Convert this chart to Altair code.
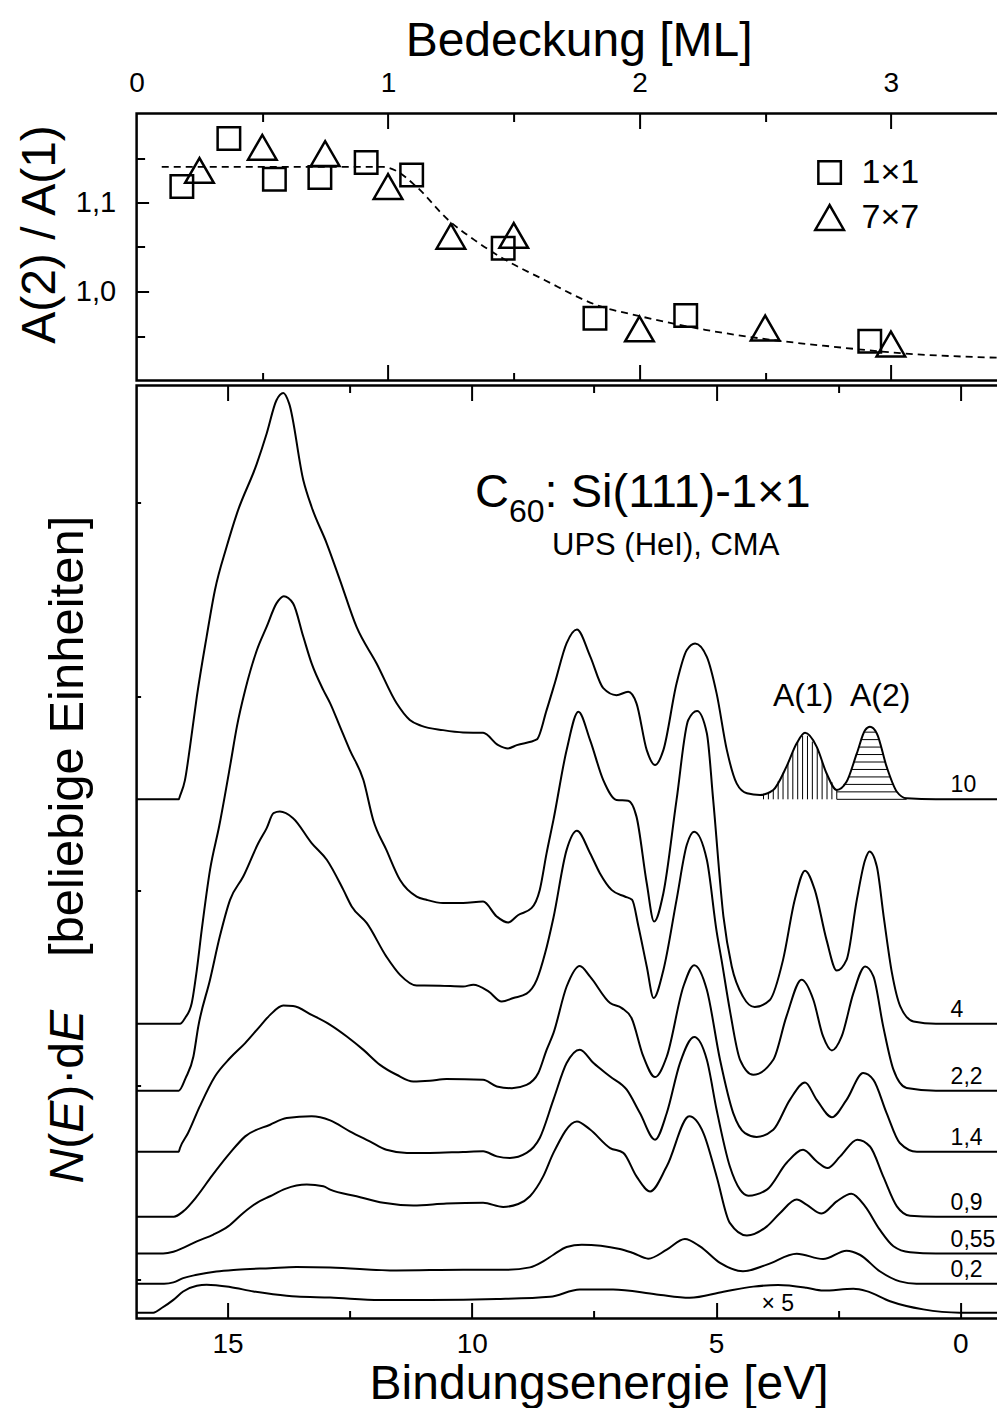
import altair as alt
import numpy as np
import pandas as pd

FONT = "Liberation Sans"

# ---------------- upper panel: A(2)/A(1) versus coverage ----------------
sq_ml = [0.18, 0.367, 0.548, 0.729, 0.913, 1.094, 1.458, 1.823, 2.184, 2.916]
sq_ratio = [1.118, 1.172, 1.126, 1.128, 1.145, 1.131, 1.0485, 0.970, 0.973, 0.944]
tri_ml = [0.25, 0.50, 0.75, 1.0, 1.25, 1.50, 2.0, 2.5, 3.0]
tri_ratio = [1.136, 1.162, 1.155, 1.118, 1.062, 1.063, 0.958, 0.959, 0.941]
fit_ml = [0.10, 0.98, 1.03, 1.114, 1.241, 1.343, 1.446, 1.624, 1.828, 2.006,
          2.261, 2.516, 2.77, 3.025, 3.5]
fit_ratio = [1.14, 1.14, 1.136, 1.1175, 1.080, 1.058, 1.039, 1.0127, 0.985, 0.972,
             0.957, 0.946, 0.938, 0.931, 0.925]

# ---------------- lower panel: UPS spectra ----------------
# (binding energy eV, intensity above the curve's own baseline, arb. units)
spec_10 = [(16.86, 0), (16.0, 0), (15.975, 0.017), (15.873, 0.099), (15.77, 0.27),
           (15.63, 0.528), (15.43, 0.836), (15.26, 1.076), (15.02, 1.299), (14.81, 1.47),
           (14.40, 1.728), (14.20, 1.882), (14.0, 2.053), (13.86, 2.09), (13.74, 2.036),
           (13.45, 1.642), (13.28, 1.504), (12.97, 1.316), (12.70, 1.128), (12.36, 0.887),
           (11.95, 0.699), (11.54, 0.494), (11.27, 0.408), (11.03, 0.378), (10.59, 0.356),
           (10.18, 0.344), (9.77, 0.342), (9.46, 0.279), (9.26, 0.262), (9.08, 0.279),
           (8.67, 0.308), (8.47, 0.459), (8.30, 0.60), (8.06, 0.804), (7.85, 0.874),
           (7.58, 0.737), (7.31, 0.572), (7.04, 0.536), (6.80, 0.553), (6.63, 0.494),
           (6.42, 0.253), (6.25, 0.176), (6.08, 0.253), (5.81, 0.596), (5.60, 0.768),
           (5.43, 0.802), (5.19, 0.733), (4.99, 0.545), (4.78, 0.253), (4.58, 0.082),
           (4.37, 0.031), (4.10, 0.022), (3.83, 0.048), (3.56, 0.168), (3.35, 0.288),
           (3.18, 0.342), (2.94, 0.27), (2.74, 0.134), (2.53, 0.048), (2.33, 0.09),
           (2.12, 0.236), (1.95, 0.356), (1.85, 0.373), (1.71, 0.339), (1.51, 0.168),
           (1.30, 0.039), (1.10, 0.005), (0.5, 0), (-1.15, 0)]
spec_4 = [(16.86, 0), (15.975, 0), (15.873, 0.029), (15.735, 0.106), (15.63, 0.278),
          (15.53, 0.483), (15.36, 0.792), (15.17, 1.02), (14.94, 1.34), (14.81, 1.529),
          (14.64, 1.717), (14.40, 1.923), (14.20, 2.043), (14.0, 2.163), (13.85, 2.2),
          (13.66, 2.163), (13.45, 1.991), (13.28, 1.854), (13.04, 1.717), (12.90, 1.649),
          (12.70, 1.529), (12.50, 1.409), (12.22, 1.254), (12.02, 1.049), (11.75, 0.895),
          (11.47, 0.74), (11.13, 0.655), (10.93, 0.638), (10.59, 0.621), (10.18, 0.621),
          (9.77, 0.629), (9.49, 0.552), (9.26, 0.521), (9.05, 0.56), (8.78, 0.595),
          (8.61, 0.689), (8.47, 0.878), (8.33, 1.049), (8.06, 1.409), (7.82, 1.606),
          (7.58, 1.46), (7.31, 1.254), (7.04, 1.152), (6.80, 1.148), (6.63, 1.066),
          (6.42, 0.723), (6.27, 0.526), (6.08, 0.672), (5.81, 1.152), (5.57, 1.563),
          (5.39, 1.609), (5.19, 1.495), (5.06, 1.152), (4.85, 0.552), (4.68, 0.295),
          (4.45, 0.14), (4.21, 0.086), (3.90, 0.123), (3.63, 0.329), (3.39, 0.638),
          (3.18, 0.788), (2.98, 0.689), (2.74, 0.432), (2.53, 0.274), (2.33, 0.329),
          (2.12, 0.638), (1.95, 0.843), (1.86, 0.886), (1.71, 0.809), (1.57, 0.552),
          (1.40, 0.261), (1.23, 0.09), (0.96, 0.012), (0.5, 0), (-1.15, 0)]
spec_22 = [(16.86, 0), (16.0, 0), (15.86, 0.065), (15.70, 0.176), (15.60, 0.331),
           (15.36, 0.571), (15.16, 0.793), (14.95, 0.982), (14.68, 1.102), (14.37, 1.274),
           (14.20, 1.351), (14.06, 1.428), (13.93, 1.436), (13.66, 1.402), (13.28, 1.274),
           (12.97, 1.188), (12.63, 1.033), (12.46, 0.948), (12.15, 0.862), (11.75, 0.69),
           (11.47, 0.596), (11.13, 0.541), (10.65, 0.54), (10.18, 0.536), (9.97, 0.545),
           (9.66, 0.511), (9.39, 0.459), (9.15, 0.477), (8.88, 0.499), (8.67, 0.571),
           (8.50, 0.708), (8.33, 0.89), (8.06, 1.239), (7.85, 1.337), (7.58, 1.222),
           (7.38, 1.119), (7.14, 1.033), (6.87, 0.999), (6.72, 0.982), (6.59, 0.845),
           (6.42, 0.639), (6.28, 0.477), (6.08, 0.62), (5.81, 0.982), (5.60, 1.265),
           (5.45, 1.332), (5.19, 1.188), (4.99, 0.82), (4.89, 0.674), (4.72, 0.416),
           (4.51, 0.159), (4.24, 0.082), (3.83, 0.159), (3.56, 0.382), (3.25, 0.571),
           (3.01, 0.468), (2.81, 0.279), (2.63, 0.207), (2.43, 0.279), (2.19, 0.502),
           (1.95, 0.639), (1.78, 0.588), (1.58, 0.331), (1.37, 0.108), (1.10, 0.014),
           (0.5, 0), (-1.15, 0)]
spec_14 = [(16.86, 0), (16.0, 0), (15.975, 0.019), (15.81, 0.096), (15.57, 0.233),
           (15.26, 0.387), (14.95, 0.482), (14.64, 0.559), (14.37, 0.636), (14.13, 0.704),
           (13.86, 0.752), (13.66, 0.75), (13.28, 0.704), (12.90, 0.653), (12.56, 0.593),
           (12.22, 0.524), (11.88, 0.447), (11.54, 0.396), (11.20, 0.361), (10.86, 0.365),
           (10.52, 0.374), (9.77, 0.37), (9.49, 0.336), (9.18, 0.327), (8.88, 0.344),
           (8.64, 0.405), (8.47, 0.524), (8.33, 0.61), (8.06, 0.85), (7.79, 0.956),
           (7.58, 0.901), (7.17, 0.765), (6.93, 0.739), (6.73, 0.687), (6.49, 0.49),
           (6.25, 0.384), (6.01, 0.49), (5.67, 0.85), (5.45, 0.96), (5.19, 0.833),
           (4.92, 0.473), (4.65, 0.199), (4.41, 0.096), (4.17, 0.076), (3.83, 0.113),
           (3.49, 0.267), (3.18, 0.356), (2.94, 0.267), (2.63, 0.178), (2.33, 0.267),
           (1.99, 0.405), (1.78, 0.37), (1.51, 0.199), (1.24, 0.045), (0.89, 0), (-1.15, 0)]
spec_09 = [(16.86, 0), (16.1, 0), (15.91, 0.027), (15.63, 0.104), (15.33, 0.207),
           (14.95, 0.328), (14.64, 0.413), (14.13, 0.473), (13.79, 0.507), (13.28, 0.516),
           (12.90, 0.495), (12.50, 0.439), (12.09, 0.387), (11.75, 0.344), (11.33, 0.328),
           (10.86, 0.328), (10.18, 0.333), (9.77, 0.336), (9.49, 0.31), (9.22, 0.302),
           (8.88, 0.328), (8.61, 0.405), (8.33, 0.602), (8.06, 0.79), (7.79, 0.859),
           (7.51, 0.79), (7.17, 0.721), (6.83, 0.653), (6.56, 0.533), (6.25, 0.396),
           (6.01, 0.533), (5.74, 0.79), (5.45, 0.924), (5.19, 0.807), (4.99, 0.55),
           (4.72, 0.259), (4.51, 0.139), (4.34, 0.108), (3.96, 0.139), (3.56, 0.276),
           (3.22, 0.344), (2.94, 0.284), (2.72, 0.25), (2.46, 0.31), (2.11, 0.396),
           (1.85, 0.361), (1.58, 0.207), (1.30, 0.053), (1.03, 0.005), (0.5, 0), (-1.15, 0)]
spec_055 = [(16.86, 0), (16.32, 0), (16.11, 0.009), (15.91, 0.029), (15.63, 0.063),
            (15.29, 0.098), (14.99, 0.14), (14.68, 0.209), (14.40, 0.261), (14.13, 0.295),
            (13.82, 0.333), (13.38, 0.355), (13.04, 0.346), (12.90, 0.329), (12.36, 0.295),
            (11.81, 0.261), (11.20, 0.247), (10.52, 0.257), (9.77, 0.261), (9.36, 0.24),
            (9.05, 0.255), (8.81, 0.295), (8.54, 0.397), (8.33, 0.518), (7.85, 0.68),
            (7.58, 0.638), (7.17, 0.543), (6.90, 0.518), (6.63, 0.397), (6.35, 0.32),
            (6.01, 0.449), (5.55, 0.706), (5.26, 0.62), (4.99, 0.397), (4.72, 0.158),
            (4.37, 0.093), (3.96, 0.14), (3.69, 0.209), (3.35, 0.278), (3.15, 0.252),
            (2.84, 0.206), (2.53, 0.269), (2.23, 0.308), (1.95, 0.243), (1.65, 0.123),
            (1.37, 0.038), (1.03, 0.007), (0.5, 0), (-1.15, 0)]
spec_02 = [(16.86, 0), (16.3, 0), (16.11, 0.007), (15.91, 0.029), (15.63, 0.046),
           (15.23, 0.063), (14.81, 0.072), (14.13, 0.08), (13.59, 0.086), (12.90, 0.084),
           (11.54, 0.068), (10.18, 0.072), (9.29, 0.072), (8.81, 0.084), (8.54, 0.115),
           (8.33, 0.149), (8.06, 0.189), (7.75, 0.201), (6.97, 0.179), (6.70, 0.158),
           (6.39, 0.129), (6.01, 0.175), (5.64, 0.23), (5.33, 0.192), (4.92, 0.107),
           (4.45, 0.064), (3.96, 0.098), (3.35, 0.154), (2.81, 0.127), (2.33, 0.17),
           (2.06, 0.149), (1.65, 0.064), (1.24, 0.012), (0.9, 0), (-1.15, 0)]
spec_x5 = [(16.86, 0), (16.52, 0), (16.35, 0.024), (16.11, 0.066), (15.91, 0.109),
           (15.63, 0.139), (15.43, 0.144), (14.95, 0.132), (14.47, 0.109), (14.07, 0.095),
           (13.59, 0.083), (12.90, 0.078), (11.88, 0.065), (10.86, 0.065), (9.49, 0.07),
           (8.40, 0.082), (7.79, 0.119), (7.11, 0.119), (6.22, 0.094), (5.54, 0.077),
           (4.85, 0.108), (4.24, 0.134), (3.73, 0.142), (3.15, 0.128), (2.81, 0.114),
           (2.19, 0.123), (1.92, 0.111), (1.44, 0.059), (0.76, 0.017), (0.01, 0), (-1.15, 0)]

curve_names = ["10", "4", "2,2", "1,4", "0,9", "0,55", "0,2", "x5"]
curve_specs = [spec_10, spec_4, spec_22, spec_14, spec_09, spec_055, spec_02, spec_x5]
curve_offsets = [2.471, 1.316, 0.972, 0.658, 0.324, 0.134, -0.021, -0.17]
label_names = ["10", "4", "2,2", "1,4", "0,9", "0,55", "0,2"]
label_E = 0.2

# ---------------- build tables ----------------
pts_df = pd.DataFrame({
    "ml": sq_ml + tri_ml,
    "ratio": sq_ratio + tri_ratio,
    "typ": ["1×1"] * len(sq_ml) + ["7×7"] * len(tri_ml),
})
fit_df = pd.DataFrame({"ml": fit_ml, "ratio": fit_ratio})

rows = []
for name, spec, off in zip(curve_names, curve_specs, curve_offsets):
    for e, i in spec:
        rows.append({"E": e, "v": off + i, "curve": name})
curves_df = pd.DataFrame(rows)

lab_df = pd.DataFrame({
    "E": [label_E] * len(label_names),
    "v": [curve_offsets[curve_names.index(n)] + 0.036 for n in label_names],
    "t": label_names,
})
x5_df = pd.DataFrame({"E": [4.07], "v": [-0.163], "t": ["× 5"]})

# hatching of the A(1) / A(2) areas of the top spectrum
E10 = np.array([p[0] for p in spec_10][::-1])
I10 = np.array([p[1] for p in spec_10][::-1])
off10 = curve_offsets[0]
a1_E = [2.53 + 0.1 * k for k in range(16)]
hatch_v = pd.DataFrame({
    "E": a1_E,
    "v0": [off10] * len(a1_E),
    "v1": [off10 + float(np.interp(e, E10, I10)) for e in a1_E],
})
grid_r = np.linspace(1.10, 1.85, 600)
vals_r = np.interp(grid_r, E10, I10)
grid_l = np.linspace(1.85, 2.53, 600)
vals_l = np.interp(grid_l, E10, I10)
hrows = []
for k in range(10):
    h = 0.0384 * k
    rr = grid_r[vals_r <= h]
    e_right = float(rr.max()) if len(rr) else 1.10
    ll = grid_l[vals_l <= h]
    e_left = float(ll.min()) if len(ll) else 2.53
    hrows.append({"E0": e_left, "E1": e_right, "v": off10 + h})
hatch_h = pd.DataFrame(hrows)

# ---------------- geometry / scales ----------------
W = 880
H1 = 267
H2 = 933
top_x = alt.Scale(domain=[0, 3.5], nice=False, zero=False)
top_y = alt.Scale(domain=[0.9, 1.2], nice=False, zero=False)
bot_x = alt.Scale(domain=[-1.151, 16.863], reverse=True, nice=False, zero=False)
bot_y = alt.Scale(domain=[-0.2, 4.6], nice=False, zero=False)


def tick_axis(orient, offset, values, size):
    return alt.Axis(orient=orient, offset=offset, values=values, tickSize=size,
                    tickWidth=2, tickColor="black", ticks=True, labels=False,
                    domain=False, grid=False, title=None)


def guide(data, xf, yf, xsc, ysc, xaxis, yaxis):
    return alt.Chart(data).mark_point(opacity=0, size=1).encode(
        x=alt.X(f"{xf}:Q", scale=xsc, axis=xaxis),
        y=alt.Y(f"{yf}:Q", scale=ysc, axis=yaxis),
    )


gtop = pd.DataFrame({"ml": [1.0], "ratio": [1.0]})
gbot = pd.DataFrame({"E": [5.0], "v": [1.0]})

# ---------------- upper panel ----------------
fit_line = alt.Chart(fit_df).mark_line(
    color="black", strokeWidth=1.8, strokeDash=[7, 5], interpolate="monotone"
).encode(
    x=alt.X("ml:Q", scale=top_x, axis=None),
    y=alt.Y("ratio:Q", scale=top_y, axis=None),
)

leg = alt.Legend(orient="none", legendX=676, legendY=42, title=None, labelFontSize=34,
                 labelOffset=15, rowPadding=10, padding=0, symbolStrokeWidth=2.5,
                 symbolStrokeColor="black", symbolFillColor="transparent",
                 labelColor="black")
points = alt.Chart(pts_df).mark_point(
    filled=False, color="black", strokeWidth=2.5, opacity=1
).encode(
    x=alt.X("ml:Q", scale=top_x, axis=None),
    y=alt.Y("ratio:Q", scale=top_y, axis=None),
    shape=alt.Shape("typ:N", scale=alt.Scale(domain=["1×1", "7×7"],
                                             range=["square", "triangle-up"]), legend=leg),
    size=alt.Size("typ:N", scale=alt.Scale(domain=["1×1", "7×7"], range=[506, 820]),
                  legend=leg),
)

top_label_x = alt.Axis(orient="top", values=[0, 1, 2, 3], format="d", labelFontSize=28,
                       labelPadding=15.6, ticks=False, tickSize=0, domain=False, grid=False,
                       labelFlush=False, labelOverlap=False,
                       title="Bedeckung [ML]", titleFontSize=48, titleFontWeight="normal",
                       titleX=442, titleY=-58, titleBaseline="alphabetic",
                       titleAlign="center")
top_label_y = alt.Axis(orient="left", values=[1.0, 1.1],
                       labelExpr="replace(format(datum.value, '.1f'), '.', ',')",
                       labelFontSize=29, labelPadding=21, ticks=False, tickSize=0,
                       domain=False, grid=False, labelOverlap=False,
                       title="A(2) / A(1)", titleFontSize=48, titleFontWeight="normal",
                       titleX=-82.6, titleY=120.5, titleAngle=270,
                       titleBaseline="alphabetic", titleAlign="center")

top = alt.layer(
    fit_line,
    points,
    guide(gtop, "ml", "ratio", top_x, top_y, top_label_x, top_label_y),
    guide(gtop, "ml", "ratio", top_x, top_y,
          tick_axis("bottom", -H1, [1, 2, 3], 15), tick_axis("right", -W, [1.0, 1.1], 12)),
    guide(gtop, "ml", "ratio", top_x, top_y,
          tick_axis("bottom", -H1, [0.5, 1.5, 2.5], 8),
          tick_axis("right", -W, [0.95, 1.05, 1.15], 8)),
    guide(gtop, "ml", "ratio", top_x, top_y,
          tick_axis("top", -H1, [1, 2, 3], 16), tick_axis("left", -W, [1.0, 1.1], 16)),
    guide(gtop, "ml", "ratio", top_x, top_y,
          tick_axis("top", -H1, [0.5, 1.5, 2.5], 8),
          tick_axis("left", -W, [0.95, 1.05, 1.15], 10)),
).resolve_axis(x="independent", y="independent").properties(width=W, height=H1)

# ---------------- lower panel ----------------
hv = alt.Chart(hatch_v).mark_rule(color="black", strokeWidth=1).encode(
    x=alt.X("E:Q", scale=bot_x, axis=None),
    y=alt.Y("v0:Q", scale=bot_y, axis=None),
    y2="v1:Q",
)
hh = alt.Chart(hatch_h).mark_rule(color="black", strokeWidth=1).encode(
    x=alt.X("E0:Q", scale=bot_x, axis=None),
    x2="E1:Q",
    y=alt.Y("v:Q", scale=bot_y, axis=None),
)
lines = alt.Chart(curves_df).mark_line(
    color="black", strokeWidth=2, interpolate="monotone"
).encode(
    x=alt.X("E:Q", scale=bot_x, axis=None),
    y=alt.Y("v:Q", scale=bot_y, axis=None),
    detail="curve:N",
)
labels = alt.Chart(lab_df).mark_text(
    align="left", baseline="alphabetic", fontSize=23, color="black"
).encode(
    x=alt.X("E:Q", scale=bot_x, axis=None),
    y=alt.Y("v:Q", scale=bot_y, axis=None),
    text="t:N",
)
x5_lab = alt.Chart(x5_df).mark_text(
    align="left", baseline="alphabetic", fontSize=23, color="black"
).encode(
    x=alt.X("E:Q", scale=bot_x, axis=None),
    y=alt.Y("v:Q", scale=bot_y, axis=None),
    text="t:N",
)


def note(txt, px, py, size, angle=0, style="normal"):
    return alt.Chart(pd.DataFrame({"t": [txt]})).mark_text(
        align="left", baseline="alphabetic", fontSize=size, angle=angle,
        fontStyle=style, color="black"
    ).encode(x=alt.value(px), y=alt.value(py), text="t:N")


notes = [
    note("C", 338.4, 121, 47),
    note("60", 372.4, 136, 32),
    note(": Si(111)-1×1", 408.0, 121, 47),
    note("UPS (HeI), CMA", 415.4, 169, 31),
    note("A(1)", 636.4, 320.7, 32),
    note("A(2)", 713.4, 320.7, 32),
    note("N", -53.6, 798, 48, 270, "italic"),
    note("(", -53.6, 763.3, 48, 270),
    note("E", -53.6, 747.3, 48, 270, "italic"),
    note(")·d", -53.6, 715.3, 48, 270),
    note("E", -53.6, 656.6, 48, 270, "italic"),
    note("[beliebige Einheiten]", -53.6, 571.5, 49, 270),
]

bot_label_x = alt.Axis(orient="bottom", values=[0, 5, 10, 15], format="d", labelFontSize=28,
                       labelPadding=11.5, ticks=False, tickSize=0, domain=False, grid=False,
                       labelFlush=False, labelOverlap=False,
                       title="Bindungsenergie [eV]", titleFontSize=48,
                       titleFontWeight="normal", titleX=462, titleY=79.5,
                       titleBaseline="alphabetic", titleAlign="center")

bottom = alt.layer(
    hv, hh, lines, labels, x5_lab, *notes,
    guide(gbot, "E", "v", bot_x, bot_y, bot_label_x,
          tick_axis("right", -W, [0, 1, 2, 3, 4], 4)),
    guide(gbot, "E", "v", bot_x, bot_y, tick_axis("top", -H2, [0, 5, 10, 15], 16), None),
    guide(gbot, "E", "v", bot_x, bot_y, tick_axis("top", -H2, [2.5, 7.5, 12.5], 8), None),
    guide(gbot, "E", "v", bot_x, bot_y, tick_axis("bottom", -H2, [0, 5, 10, 15], 15), None),
    guide(gbot, "E", "v", bot_x, bot_y, tick_axis("bottom", -H2, [2.5, 7.5, 12.5], 7), None),
).resolve_axis(x="independent", y="independent").properties(width=W, height=H2)

# total svg width = W + left + right padding; page = svg + 2*8 px margin <= 1005
PAD_L = 128.6
PAD_T = 105.5
PAD_R = 989 - PAD_L - W
chart = alt.vconcat(top, bottom, spacing=5, bounds="flush").properties(
    autosize=alt.AutoSizeParams(type="none"),
    padding={"left": PAD_L, "top": PAD_T, "right": PAD_R, "bottom": 1400 - PAD_T},
).configure(font=FONT).configure_view(
    stroke="black", strokeWidth=2.5
).configure_axis(labelColor="black", titleColor="black")

chart.save("out.html", embed_options={"renderer": "svg", "actions": False})
